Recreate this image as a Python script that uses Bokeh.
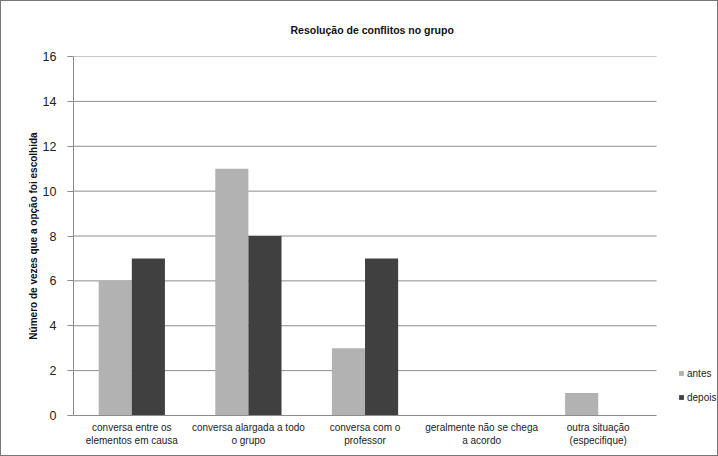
from bokeh.plotting import figure
from bokeh.models import ColumnDataSource, Legend, LegendItem, Range1d, FixedTicker
from bokeh.embed import file_html
from bokeh.resources import INLINE

categories = [
    "conversa entre os\nelementos em causa",
    "conversa alargada a todo\no grupo",
    "conversa com o\nprofessor",
    "geralmente não se chega\na acordo",
    "outra situação\n(especifique)",
]
antes = [6, 11, 3, 0, 1]
depois = [7, 8, 7, 0, 0]
y_ticks = [0, 2, 4, 6, 8, 10, 12, 14, 16]

FONT = "Liberation Sans"
N = len(categories)
centers = [i + 0.5 for i in range(N)]
BW = 0.284

src = ColumnDataSource(dict(
    xa=[c - BW / 2 for c in centers], xd=[c + BW / 2 for c in centers],
    antes=antes, depois=depois))

p = figure(
    width=718, height=456,
    x_range=Range1d(0, 5.54),
    y_range=Range1d(0, 16),
    output_backend="svg", toolbar_location=None,
    min_border_left=72, min_border_right=0, min_border_top=55, min_border_bottom=42,
    title="Resolução de conflitos no grupo",
)
p.styles = {"border": "1px solid #777777"}
p.outline_line_color = None
p.background_fill_color = "white"
p.border_fill_color = "white"

p.title.align = "left"
p.title.offset = 217
p.title.text_font = FONT
p.title.text_font_size = "10.5px"
p.title.text_font_style = "bold"
p.title.text_color = "#111111"
p.title.standoff = 41

p.xgrid.grid_line_color = None
p.ygrid.grid_line_color = None
grid_y = [t for t in y_ticks if t > 0]
p.segment(x0=[0] * len(grid_y), x1=[N] * len(grid_y), y0=grid_y, y1=grid_y,
          line_color="#8c8c8c", line_width=1)

r1 = p.vbar(x="xa", top="antes", width=BW, source=src, fill_color="#b2b2b2", line_color=None)
r2 = p.vbar(x="xd", top="depois", width=BW, source=src, fill_color="#404040", line_color=None)

p.yaxis.ticker = y_ticks
p.yaxis.axis_line_color = "#8c8c8c"
p.yaxis.major_tick_line_color = "#8c8c8c"
p.yaxis.major_tick_out = 6
p.yaxis.major_tick_in = 0
p.yaxis.minor_tick_line_color = None
p.yaxis.major_label_text_font = FONT
p.yaxis.major_label_text_font_size = "12.5px"
p.yaxis.major_label_text_color = "#222222"
p.yaxis.major_label_standoff = 11
p.yaxis.axis_label = "Número de vezes que a opção foi escolhida"
p.yaxis.axis_label_text_font = FONT
p.yaxis.axis_label_text_font_size = "10px"
p.yaxis.axis_label_text_font_style = "bold"
p.yaxis.axis_label_text_color = "#111111"
p.yaxis.axis_label_standoff = 1

p.xaxis.ticker = FixedTicker(ticks=centers)
p.xaxis.major_label_overrides = {c: lab for c, lab in zip(centers, categories)}
p.xaxis.bounds = (0, N)
p.xaxis.axis_line_color = "#8c8c8c"
p.xaxis.major_tick_line_color = None
p.xaxis.minor_tick_line_color = None
p.xaxis.major_label_text_font = FONT
p.xaxis.major_label_text_font_size = "10px"
p.xaxis.major_label_text_color = "#222222"
p.xaxis.major_label_standoff = 0

legend = Legend(
    items=[LegendItem(label="antes", renderers=[r1]), LegendItem(label="depois", renderers=[r2])],
    location=(605, 12), orientation="vertical",
    label_text_font=FONT, label_text_font_size="10px", label_text_color="#222222",
    glyph_width=6, glyph_height=6, label_standoff=3, spacing=12,
    label_height=12,
    background_fill_alpha=0, border_line_color=None, padding=0, margin=0,
)
p.add_layout(legend, "center")

open("out.html", "w").write(file_html(p, INLINE))
